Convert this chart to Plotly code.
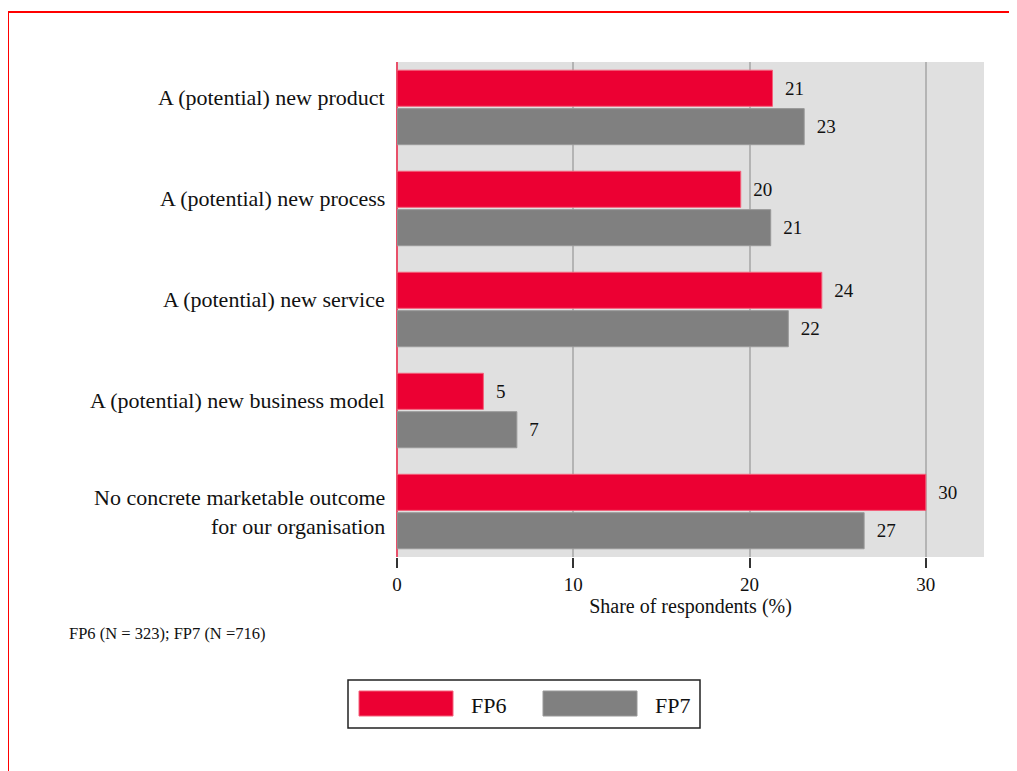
import plotly.graph_objects as go

categories = [
    "A (potential) new product",
    "A (potential) new process",
    "A (potential) new service",
    "A (potential) new business model",
    "No concrete marketable outcome<br>for our organisation",
]
fp6_values = [21.3, 19.5, 24.1, 4.9, 30.0]
fp7_values = [23.1, 21.2, 22.2, 6.8, 26.5]
fp6_labels = ["21", "20", "24", "5", "30"]
fp7_labels = ["23", "21", "22", "7", "27"]
x_ticks = [0, 10, 20, 30]
series_names = ["FP6", "FP7"]
footnote = "FP6 (N = 323); FP7 (N =716)"
x_title = "Share of respondents (%)"

RED = "#ec0033"
GRAY = "#808080"
FONT = "Liberation Serif"

OFF = 8  # page body margin
W, H = 1009, 763
L, R, T, B = 389, 33, 54, 214


def px_x(px):
    return (px - OFF - L) / (W - L - R)


def px_y(py):
    return 1 - (py - OFF - T) / (H - T - B)


fig = go.Figure()
fig.add_trace(go.Bar(
    y=categories, x=fp6_values, orientation="h", name=series_names[0],
    marker=dict(color=RED, line=dict(color="#f4607a", width=1)),
    text=["  " + t for t in fp6_labels], textposition="outside",
    textfont=dict(family=FONT, size=19, color="#111"), cliponaxis=False,
    showlegend=False,
))
fig.add_trace(go.Bar(
    y=categories, x=fp7_values, orientation="h", name=series_names[1],
    marker=dict(color=GRAY, line=dict(color="#999999", width=1)),
    text=["  " + t for t in fp7_labels], textposition="outside",
    textfont=dict(family=FONT, size=19, color="#111"), cliponaxis=False,
    showlegend=False,
))

shapes = [
    # red frame
    dict(type="line", xref="paper", yref="paper", x0=px_x(8), x1=px_x(1017),
         y0=px_y(12), y1=px_y(12), line=dict(color="#ff0000", width=2)),
    dict(type="line", xref="paper", yref="paper", x0=px_x(8), x1=px_x(8),
         y0=px_y(12), y1=px_y(771), line=dict(color="#ff0000", width=2)),
    # legend box
    dict(type="rect", xref="paper", yref="paper", x0=px_x(348), x1=px_x(700),
         y0=px_y(680), y1=px_y(728), line=dict(color="#222", width=1.5),
         fillcolor="white"),
    dict(type="rect", xref="paper", yref="paper", x0=px_x(359), x1=px_x(453),
         y0=px_y(691), y1=px_y(716), line=dict(color="#f4607a", width=1),
         fillcolor=RED),
    dict(type="rect", xref="paper", yref="paper", x0=px_x(543), x1=px_x(637),
         y0=px_y(691), y1=px_y(716), line=dict(color="#999999", width=1),
         fillcolor=GRAY),
]

annotations = [
    dict(text=footnote, xref="paper", yref="paper", x=px_x(67), y=px_y(633),
         xanchor="left", yanchor="middle", showarrow=False,
         font=dict(family=FONT, size=16.5, color="#111")),
    dict(text=series_names[0], xref="paper", yref="paper", x=px_x(469), y=px_y(705),
         xanchor="left", yanchor="middle", showarrow=False,
         font=dict(family=FONT, size=22, color="#111")),
    dict(text=series_names[1], xref="paper", yref="paper", x=px_x(653), y=px_y(705),
         xanchor="left", yanchor="middle", showarrow=False,
         font=dict(family=FONT, size=22, color="#111")),
]

# category labels (drawn as text at each category position)
for cat in categories:
    n = len(cat.split("<br>"))
    annotations.append(dict(
        text=cat, xref="paper", yref="y", x=0, y=cat, align="right",
        xanchor="right", yanchor="middle", xshift=-10,
        yshift=10 if n == 1 else 0,
        showarrow=False, font=dict(family=FONT, size=22, color="#111")))

fig.update_layout(
    width=W, height=H,
    margin=dict(l=L, r=R, t=T, b=B, pad=0),
    paper_bgcolor="white", plot_bgcolor="#e0e0e0",
    barmode="group", bargap=0.24, bargroupgap=0.06,
    font=dict(family=FONT, size=18, color="#111"),
    shapes=shapes, annotations=annotations,
    xaxis=dict(range=[0, 33.3], tickvals=x_ticks, showgrid=True,
               gridcolor="#b4b4b4", gridwidth=2, zeroline=True,
               zerolinecolor="#e8506a", zerolinewidth=2,
               ticks="outside", ticklen=10, tickcolor="#333", tickwidth=1.5,
               tickfont=dict(family=FONT, size=19, color="#111"),
               title=dict(text=x_title, standoff=2,
                          font=dict(family=FONT, size=20, color="#111"))),
    yaxis=dict(range=[4.45, -0.45], showgrid=False, ticks="",
               showticklabels=False),
)

fig.write_html("out.html")
